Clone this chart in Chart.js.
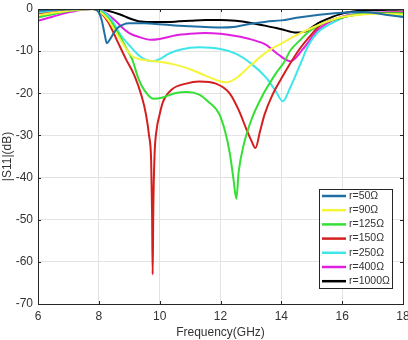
<!DOCTYPE html>
<html>
<head>
<meta charset="utf-8">
<script src="https://cdn.jsdelivr.net/npm/chart.js@4.4.1/dist/chart.umd.min.js"></script>
<style>
  html, body { margin: 0; padding: 0; background: #fff; }
  #wrap { width: 408px; height: 340px; }
</style>
</head>
<body>
<div id="wrap"><canvas id="myChart"></canvas></div>
<script>
// tick labels
const xTicks = [6, 8, 10, 12, 14, 16, 18];
const yTicks = [0, -10, -20, -30, -40, -50, -60, -70];

// r = 50 ohm
const freq50 = [6, 6.5, 7, 7.5, 7.8, 8.0, 8.1, 8.2, 8.26, 8.35, 8.45, 8.6, 8.8, 9.0, 9.5, 10, 10.5, 11, 11.5, 12, 12.5, 13, 13.5, 14, 14.5, 15, 15.5, 16, 16.5, 17, 17.5, 18];
const s11_50 = [-0.4, -0.2, -0.1, 0, 0, -0.8, -2.8, -6.3, -8.1, -7.4, -6.2, -4.6, -3.7, -3.4, -3.4, -3.6, -3.9, -4.1, -4.3, -4.4, -4.2, -3.5, -3.0, -2.7, -2.1, -1.6, -1.2, -0.9, -0.7, -0.9, -1.4, -1.9];

// r = 90 ohm
const freq90 = [6, 6.5, 7, 7.5, 7.8, 8.0, 8.3, 8.6, 8.9, 9.1, 9.4, 9.7, 10, 10.5, 11, 11.5, 12, 12.2, 12.5, 13, 13.5, 14, 14.5, 15, 15.5, 16, 16.5, 17, 17.5, 18];
const s11_90 = [-1.5, -0.9, -0.4, -0.05, 0, -0.5, -2.5, -6, -9.5, -11.2, -12.0, -12.3, -12.5, -13.2, -14.3, -15.8, -17.2, -17.4, -16.5, -13.3, -10.3, -8.2, -6.2, -4.5, -3.0, -1.9, -1.4, -1.2, -1.2, -1.3];

// r = 125 ohm
const freq125 = [6, 6.5, 7, 7.5, 7.8, 8.0, 8.3, 8.6, 8.9, 9.1, 9.3, 9.5, 9.8, 10.1, 10.5, 10.9, 11.3, 11.6, 11.95, 12.15, 12.3, 12.42, 12.52, 12.6, 12.77, 13.03, 13.37, 13.6, 13.8, 14.1, 14.3, 14.6, 14.9, 15.3, 16, 16.5, 17, 18];
const s11_125 = [-2.0, -1.2, -0.5, -0.05, 0, -0.4, -2.2, -5.3, -9.3, -12, -16.5, -19.3, -21.3, -21.0, -20.0, -19.7, -20.3, -22.0, -24.8, -29, -34, -40, -45, -38.5, -32, -26, -20.7, -17.8, -15.5, -12.5, -9.8, -7.5, -5.4, -3.6, -2.0, -1.3, -1.0, -1.0];

// r = 150 ohm
const freq150 = [6, 6.5, 7, 7.5, 7.8, 8.0, 8.3, 8.6, 8.9, 9.17, 9.4, 9.55, 9.65, 9.72, 9.75, 9.77, 9.79, 9.83, 9.9, 10.0, 10.1, 10.4, 10.87, 11.3, 11.85, 12.3, 12.6, 12.85, 13.0, 13.15, 13.3, 13.45, 13.7, 14.0, 14.25, 14.6, 14.9, 15.3, 16, 16.5, 17, 18];
const s11_150 = [-1.3, -0.8, -0.3, 0, 0, -0.6, -3, -7.5, -12, -15.8, -20.5, -25, -30, -36, -48, -63, -48, -35, -28.6, -25, -22.2, -19.1, -17.7, -17.2, -17.7, -20, -24, -28.5, -31, -33, -29, -25, -20.5, -16.5, -13.4, -9.5, -6.8, -3.7, -2.0, -1.3, -1.0, -0.9];

// r = 250 ohm
const freq250 = [6, 6.5, 7, 7.5, 7.9, 8.1, 8.3, 8.5, 8.7, 9.0, 9.3, 9.5, 9.75, 10, 10.3, 10.7, 11.3, 12, 12.5, 13, 13.5, 13.8, 14.05, 14.3, 14.6, 14.9, 15.2, 15.6, 16.2, 16.8, 17.5, 18];
const s11_250 = [-0.9, -0.4, -0.1, 0, 0, -0.5, -1.5, -3.5, -6, -8.6, -10.9, -11.9, -12.4, -11.9, -10.6, -9.6, -9.1, -9.5, -10.6, -12.9, -16.3, -19.3, -21.9, -18.5, -13.5, -8.5, -5.5, -3.6, -1.6, -0.9, -1.0, -1.6];

// r = 400 ohm
const freq400 = [6, 6.5, 7, 7.5, 7.8, 8.1, 8.5, 8.8, 9.0, 9.3, 9.7, 10, 10.5, 11, 11.5, 12, 12.5, 13, 13.5, 13.9, 14.3, 14.7, 15.2, 15.6, 16, 16.5, 17, 17.5, 18];
const s11_400 = [-2.8, -1.8, -0.8, -0.1, 0, -0.4, -2.5, -4.6, -5.7, -6.6, -7.3, -7.1, -6.3, -5.9, -5.7, -5.9, -6.4, -7.2, -8.5, -10.8, -12.4, -9.6, -5.0, -3.0, -1.8, -1.2, -0.9, -0.8, -0.8];

// r = 1000 ohm
const freq1000 = [6, 6.5, 7, 7.5, 7.8, 8.0, 8.3, 8.7, 9.0, 9.3, 9.7, 10, 10.5, 11, 11.5, 12, 12.5, 13, 13.5, 14, 14.5, 14.8, 15.2, 15.6, 16, 16.5, 17, 17.5, 18];
const s11_1000 = [-1.7, -1.0, -0.4, -0.05, 0, 0, -0.4, -1.3, -2.2, -2.9, -3.1, -3.1, -3.0, -2.8, -2.6, -2.6, -2.8, -3.3, -4.0, -4.8, -5.6, -5.3, -3.4, -2.1, -1.1, -0.5, -0.3, -0.2, -0.1];

const seriesLabels = ['r=50Ω', 'r=90Ω', 'r=125Ω', 'r=150Ω', 'r=250Ω', 'r=400Ω', 'r=1000Ω'];
const seriesColors = ['#1f6fa3', '#f5f53a', '#33e033', '#d41f1f', '#3ee6ea', '#e020e0', '#000000'];
const seriesFreq = [freq50, freq90, freq125, freq150, freq250, freq400, freq1000];
const seriesS11 = [s11_50, s11_90, s11_125, s11_150, s11_250, s11_400, s11_1000];

const textColor = '#333333';
const fontFamily = "'Liberation Sans', Arial, sans-serif";

function toPoints(xs, ys) {
    return xs.map((x, i) => ({ x: x, y: ys[i] }));
}

const datasets = seriesLabels.map((label, i) => ({
    label: label,
    data: toPoints(seriesFreq[i], seriesS11[i]),
    borderColor: seriesColors[i],
    backgroundColor: seriesColors[i],
    borderWidth: 2,
    pointRadius: 0,
    cubicInterpolationMode: 'monotone',
    fill: false
}));

// box around the plot with inward ticks, MATLAB style
const framePlugin = {
    id: 'frame',
    afterDatasetsDraw(chart) {
        const { ctx, chartArea: a, scales } = chart;
        ctx.save();
        ctx.strokeStyle = '#262626';
        ctx.lineWidth = 1;
        ctx.strokeRect(Math.round(a.left) + 0.5, Math.round(a.top) + 0.5,
            Math.round(a.right - a.left), Math.round(a.bottom - a.top));
        const t = 3;
        ctx.beginPath();
        xTicks.forEach(v => {
            const px = Math.round(scales.x.getPixelForValue(v)) + 0.5;
            ctx.moveTo(px, a.bottom); ctx.lineTo(px, a.bottom - t);
            ctx.moveTo(px, a.top); ctx.lineTo(px, a.top + t);
        });
        yTicks.forEach(v => {
            const py = Math.round(scales.y.getPixelForValue(v)) + 0.5;
            ctx.moveTo(a.left, py); ctx.lineTo(a.left + t, py);
            ctx.moveTo(a.right, py); ctx.lineTo(a.right - t, py);
        });
        ctx.stroke();
        ctx.restore();
    }
};

// legend box inside the plot, lower right
const legendPlugin = {
    id: 'insideLegend',
    afterDraw(chart) {
        const { ctx } = chart;
        const x0 = 319, y0 = 189, w = 73, h = 99;
        ctx.save();
        ctx.fillStyle = '#ffffff';
        ctx.fillRect(x0, y0, w, h);
        ctx.strokeStyle = '#262626';
        ctx.lineWidth = 1;
        ctx.strokeRect(x0 + 0.5, y0 + 0.5, w, h);
        ctx.font = '10.5px ' + fontFamily;
        ctx.textBaseline = 'middle';
        chart.data.datasets.forEach((ds, i) => {
            const y = y0 + 7 + i * 14.2;
            ctx.strokeStyle = ds.borderColor;
            ctx.lineWidth = 2.5;
            ctx.beginPath();
            ctx.moveTo(x0 + 3, y);
            ctx.lineTo(x0 + 27, y);
            ctx.stroke();
            ctx.fillStyle = textColor;
            ctx.fillText(ds.label, x0 + 30, y);
        });
        ctx.restore();
    }
};

const config = {
    type: 'line',
    data: { datasets: datasets },
    options: {
        responsive: true,
        maintainAspectRatio: false,
        animation: false,
        layout: { padding: { top: 9, right: 5, left: 0, bottom: 0 } },
        plugins: {
            legend: { display: false },
            tooltip: { enabled: false }
        },
        scales: {
            x: {
                type: 'linear',
                min: 6,
                max: 18,
                afterBuildTicks: (scale) => { scale.ticks = xTicks.map(v => ({ value: v })); },
                afterFit: (scale) => {
                    scale.height = 36;
                    scale.paddingLeft = 0;
                    scale.paddingRight = 0;
                },
                ticks: { color: textColor, font: { size: 12, family: fontFamily }, padding: 5, maxRotation: 0 },
                grid: { color: '#e3e3e3', drawTicks: false },
                border: { display: false },
                title: {
                    display: true,
                    text: 'Frequency(GHz)',
                    color: textColor,
                    font: { size: 12, family: fontFamily },
                    padding: { top: 0, bottom: 0 }
                }
            },
            y: {
                type: 'linear',
                min: -70,
                max: 0,
                afterBuildTicks: (scale) => { scale.ticks = yTicks.map(v => ({ value: v })); },
                afterFit: (scale) => {
                    scale.width = 38;
                    scale.paddingTop = 0;
                    scale.paddingBottom = 0;
                },
                ticks: { color: textColor, font: { size: 12, family: fontFamily }, padding: 5 },
                grid: { color: '#e3e3e3', drawTicks: false },
                border: { display: false },
                title: {
                    display: true,
                    text: '|S11|(dB)',
                    color: textColor,
                    font: { size: 12, family: fontFamily },
                    padding: { top: 0, bottom: 0 }
                }
            }
        }
    },
    plugins: [framePlugin, legendPlugin]
};

const myChart = new Chart(document.getElementById('myChart').getContext('2d'), config);
</script>
</body>
</html>
